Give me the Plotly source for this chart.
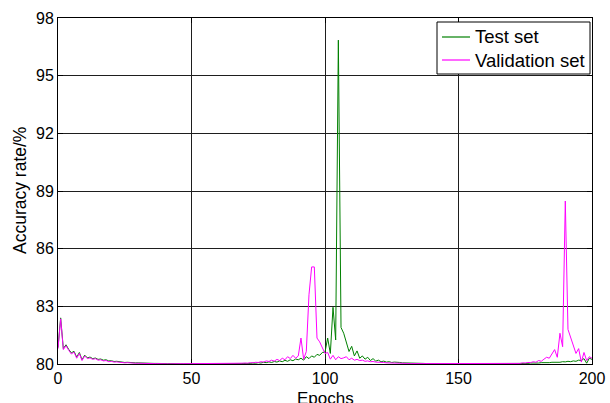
import plotly.graph_objects as go

# Training epochs 0..200
epochs = list(range(0, 201))

# Accuracy (%) on the test set, one value per epoch
test_acc = [
    80.86, 82.40, 80.80, 81.00, 80.76, 80.58, 80.66, 80.36, 80.60, 80.22,
    80.46, 80.32, 80.36, 80.28, 80.31, 80.24, 80.26, 80.20, 80.22, 80.16,
    80.17, 80.13, 80.14, 80.11, 80.11, 80.08, 80.09, 80.07, 80.07, 80.06,
    80.06, 80.05, 80.05, 80.04, 80.04, 80.03, 80.03, 80.03, 80.02, 80.02,
    80.02, 80.02, 80.02, 80.01, 80.02, 80.01, 80.01, 80.01, 80.01, 80.01,
    80.01, 80.01, 80.01, 80.01, 80.01, 80.01, 80.01, 80.01, 80.01, 80.01,
    80.01, 80.01, 80.01, 80.01, 80.01, 80.02, 80.02, 80.02, 80.03, 80.02,
    80.03, 80.04, 80.03, 80.05, 80.04, 80.07, 80.05, 80.09, 80.07, 80.11,
    80.08, 80.13, 80.10, 80.16, 80.12, 80.19, 80.14, 80.22, 80.17, 80.26,
    80.22, 80.30, 80.20, 80.38, 80.28, 80.42, 80.35, 80.50, 80.45, 80.60,
    80.62, 81.35, 80.55, 82.95, 81.25, 96.85, 81.90, 81.60, 81.15, 80.65,
    80.92, 80.42, 80.68, 80.30, 80.42, 80.25, 80.35, 80.18, 80.28, 80.15,
    80.20, 80.12, 80.15, 80.10, 80.12, 80.08, 80.10, 80.07, 80.08, 80.06,
    80.06, 80.05, 80.05, 80.04, 80.04, 80.03, 80.03, 80.03, 80.02, 80.02,
    80.02, 80.02, 80.02, 80.01, 80.02, 80.01, 80.01, 80.01, 80.01, 80.01,
    80.01, 80.01, 80.01, 80.01, 80.01, 80.01, 80.01, 80.01, 80.01, 80.01,
    80.01, 80.01, 80.01, 80.01, 80.01, 80.02, 80.01, 80.02, 80.02, 80.02,
    80.02, 80.03, 80.02, 80.03, 80.03, 80.04, 80.03, 80.05, 80.04, 80.06,
    80.05, 80.07, 80.06, 80.08, 80.07, 80.09, 80.08, 80.10, 80.09, 80.12,
    80.11, 80.14, 80.12, 80.16, 80.14, 80.20, 80.18, 80.28, 80.04, 80.30,
    80.24,
]

# Accuracy (%) on the validation set, one value per epoch
val_acc = [
    80.80, 82.35, 80.75, 80.95, 80.72, 80.52, 80.62, 80.30, 80.55, 80.18,
    80.42, 80.28, 80.32, 80.24, 80.28, 80.20, 80.22, 80.16, 80.18, 80.12,
    80.14, 80.10, 80.11, 80.08, 80.09, 80.06, 80.07, 80.05, 80.05, 80.04,
    80.04, 80.03, 80.03, 80.02, 80.03, 80.02, 80.02, 80.02, 80.01, 80.02,
    80.01, 80.01, 80.01, 80.01, 80.01, 80.01, 80.01, 80.01, 80.01, 80.01,
    80.01, 80.01, 80.01, 80.01, 80.01, 80.01, 80.01, 80.01, 80.01, 80.01,
    80.01, 80.01, 80.01, 80.01, 80.01, 80.01, 80.02, 80.03, 80.02, 80.04,
    80.05, 80.04, 80.07, 80.06, 80.09, 80.08, 80.12, 80.10, 80.16, 80.13,
    80.20, 80.15, 80.24, 80.18, 80.30, 80.22, 80.38, 80.28, 80.45, 80.30,
    80.42, 81.35, 80.25, 80.65, 83.60, 85.05, 85.05, 81.35, 81.15, 80.80,
    80.55, 80.60, 80.25, 80.45, 80.22, 80.38, 80.28, 80.32, 80.38, 80.22,
    80.30, 80.20, 80.24, 80.18, 80.20, 80.14, 80.16, 80.12, 80.13, 80.10,
    80.10, 80.08, 80.08, 80.06, 80.06, 80.05, 80.05, 80.04, 80.04, 80.03,
    80.03, 80.03, 80.02, 80.02, 80.02, 80.02, 80.01, 80.02, 80.01, 80.01,
    80.01, 80.01, 80.01, 80.01, 80.01, 80.01, 80.01, 80.01, 80.01, 80.01,
    80.01, 80.01, 80.01, 80.01, 80.01, 80.01, 80.01, 80.01, 80.01, 80.01,
    80.01, 80.01, 80.01, 80.01, 80.01, 80.01, 80.01, 80.01, 80.01, 80.01,
    80.02, 80.03, 80.04, 80.03, 80.06, 80.05, 80.08, 80.07, 80.12, 80.09,
    80.18, 80.14, 80.25, 80.35, 80.30, 80.50, 80.75, 80.35, 81.60, 80.90,
    88.48, 81.80, 81.40, 80.90, 80.55, 80.80, 80.10, 80.60, 80.18, 80.38,
    80.30,
]

series_names = ["Test set", "Validation set"]
series_colors = ["#008000", "#ff00ff"]

x_ticks = [0, 50, 100, 150, 200]
y_ticks = [80, 83, 86, 89, 92, 95, 98]

# Figure geometry (pixels)
W, H = 610, 403
ML, MR, MT, MB = 58, 18, 18, 39
PW, PH = W - ML - MR, H - MT - MB


def px_x(p):
    """Horizontal pixel position -> paper coordinate."""
    return (p - ML) / PW


def px_y(p):
    """Vertical pixel position (from top) -> paper coordinate."""
    return (H - MB - p) / PH


fig = go.Figure()
for name, color, values in zip(series_names, series_colors, [test_acc, val_acc]):
    fig.add_trace(go.Scatter(
        x=epochs, y=values, mode="lines", name=name,
        line=dict(color=color, width=1), showlegend=False,
    ))

axis_common = dict(
    showgrid=True, gridcolor="#1e1e1e", gridwidth=1,
    showline=True, linecolor="black", linewidth=1, mirror="ticks",
    ticks="inside", ticklen=5, tickcolor="black",
    zeroline=False, tickfont=dict(size=16, color="black"),
    layer="below traces",
)

fig.update_xaxes(
    range=[0, 200], tickvals=x_ticks, ticktext=[str(v) for v in x_ticks],
    **axis_common,
)
fig.update_yaxes(
    range=[80, 98], tickvals=y_ticks, ticktext=[str(v) for v in y_ticks],
    **axis_common,
)

annotations = [
    # Rotated y-axis title
    dict(
        text="Accuracy rate/%", textangle=-90, showarrow=False,
        xref="paper", yref="paper", x=0, y=0.5,
        xanchor="center", yanchor="middle", xshift=-38,
        font=dict(size=17.5, color="black"),
    ),
    # x-axis title, sitting at the bottom edge of the figure
    dict(
        text="Epochs", showarrow=False,
        xref="paper", yref="paper", x=0.5, y=0,
        xanchor="center", yanchor="top", yshift=-23,
        font=dict(size=17, color="black"),
    ),
]

# Boxed legend in the upper-right corner
box_l, box_r, box_t, box_b = 437, 590, 22, 74
shapes = [dict(
    type="rect", xref="paper", yref="paper",
    x0=px_x(box_l), x1=px_x(box_r), y0=px_y(box_b), y1=px_y(box_t),
    line=dict(color="black", width=1), fillcolor="white", layer="above",
)]
row_y = [37, 60]
for name, color, ry in zip(series_names, series_colors, row_y):
    shapes.append(dict(
        type="line", xref="paper", yref="paper",
        x0=px_x(442), x1=px_x(470), y0=px_y(ry), y1=px_y(ry),
        line=dict(color=color, width=1.2), layer="above",
    ))
    annotations.append(dict(
        text=name, showarrow=False, xref="paper", yref="paper",
        x=px_x(473), y=px_y(ry), xanchor="left", yanchor="middle",
        font=dict(size=18.5, color="black"),
    ))

fig.update_layout(
    width=W, height=H,
    margin=dict(l=ML, r=MR, t=MT, b=MB, autoexpand=False),
    paper_bgcolor="white", plot_bgcolor="white",
    font=dict(family="Liberation Sans, Arial, sans-serif", size=16, color="black"),
    showlegend=False,
    shapes=shapes,
    annotations=annotations,
)

fig.write_html("out.html")
